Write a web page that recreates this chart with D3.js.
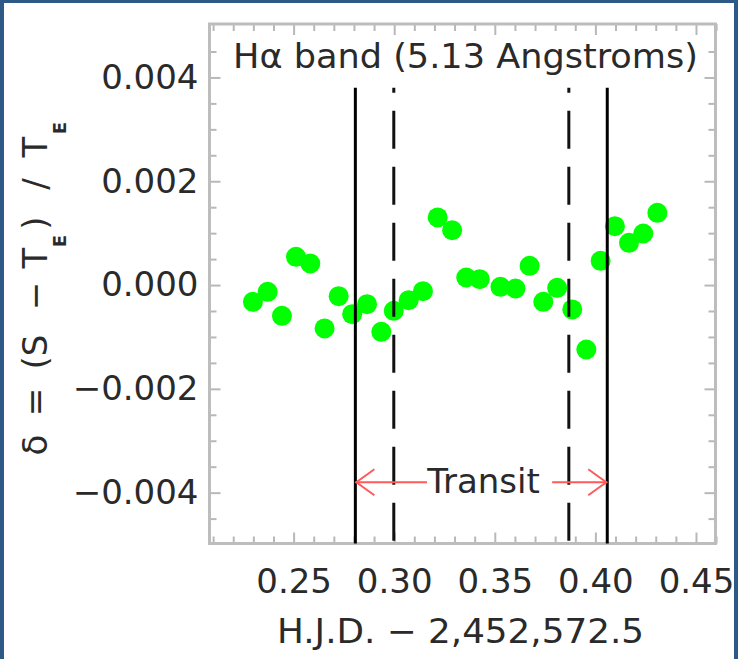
<!DOCTYPE html>
<html>
<head>
<meta charset="utf-8">
<script src="https://cdn.jsdelivr.net/npm/d3@7"></script>
<style>
  html, body { margin: 0; padding: 0; background: #fff; }
  svg { display: block; }
  text { font-family: "DejaVu Sans", sans-serif; fill: #2a2a2a; }
</style>
</head>
<body>
<svg id="chart" width="738" height="659"></svg>
<script>
// ---------------- data ----------------
const hjd = [0.2298, 0.2371, 0.2442, 0.2512, 0.2583, 0.2654, 0.2724, 0.2791, 0.2865, 0.2936,
             0.2998, 0.3072, 0.3143, 0.3216, 0.3288, 0.3358, 0.3425, 0.3528, 0.3603, 0.3673,
             0.3741, 0.3810, 0.3885, 0.3955, 0.4026, 0.4097, 0.4167, 0.4238, 0.4308];
const delta = [-0.000324, -0.000131, -0.000593, 0.000543, 0.000416, -0.000836, -0.000214, -0.000561, -0.000368, -0.000902,
               -0.000497, -0.000291, -0.000118, 0.001303, 0.001058, 0.000146, 0.000114, -0.000035, -0.000066, 0.000370,
               -0.000324, -0.000054, -0.000470, -0.001241, 0.000466, 0.001135, 0.000813, 0.000994, 0.001391];
const contactSolid = [0.2807, 0.4059];    // first / fourth contact
const contactDashed = [0.2998, 0.3868];   // second / third contact
const contactTop = 0.0038;
const transitY = -0.0038;
const transitGap = [0.3163, 0.3785];
const transitLabel = "Transit";
const xMajor = [0.25, 0.30, 0.35, 0.40, 0.45];
const yMajor = [0.004, 0.002, 0.000, -0.002, -0.004];
const xDomain = [0.2082, 0.4597];
const yDomain = [-0.00498, 0.00503];
const titleText = "Hα band (5.13 Angstroms)";
const xTitle = "H.J.D. − 2,452,572.5";
// y title pieces: [text, screen-center-y, subscript?]
const yTitlePieces = [["δ", 445, false], ["=", 402, false], ["(S", 352, false], ["−", 296, false],
                      ["T", 258, false], ["E", 241, true], [")", 223, false], ["/", 184, false],
                      ["T", 147, false], ["E", 128, true]];

// ---------------- layout ----------------
const svg = d3.select("#chart");
const L = 209.5, R = 715.5, T = 24, B = 543.5;
const x = d3.scaleLinear().domain(xDomain).range([L, R]);
const y = d3.scaleLinear().domain(yDomain).range([B, T]);

// blue border
const border = "#2d5987";
svg.append("rect").attr("x", 0).attr("y", 0).attr("width", 738).attr("height", 3).attr("fill", border);
svg.append("rect").attr("x", 0).attr("y", 0).attr("width", 4).attr("height", 659).attr("fill", border);
svg.append("rect").attr("x", 734).attr("y", 0).attr("width", 4).attr("height", 659).attr("fill", border);

const xMinor = d3.range(21, 47).map(d => d / 100).filter(v => !xMajor.some(m => Math.abs(m - v) < 1e-9));
const yMinor = d3.range(-9, 10).map(d => d * 0.0005).filter(v => !yMajor.some(m => Math.abs(m - v) < 1e-9));

const tickColor = "#b8b8b8";
function styleAxis(g) {
  g.select(".domain").remove();
  g.selectAll(".tick line").attr("stroke", tickColor).attr("stroke-width", 2);
  g.selectAll(".tick text").style("font-family", "DejaVu Sans").style("font-size", "34px").attr("fill", "#2a2a2a");
}

// bottom
svg.append("g").attr("transform", `translate(0,${B})`)
  .call(d3.axisBottom(x).tickValues(xMajor).tickSize(-11).tickPadding(25).tickFormat(d3.format(".2f")))
  .call(styleAxis);
svg.append("g").attr("transform", `translate(0,${B})`)
  .call(d3.axisBottom(x).tickValues(xMinor).tickSize(-7).tickFormat(""))
  .call(styleAxis);
// top
svg.append("g").attr("transform", `translate(0,${T})`)
  .call(d3.axisTop(x).tickValues(xMajor).tickSize(-11).tickFormat(""))
  .call(styleAxis);
svg.append("g").attr("transform", `translate(0,${T})`)
  .call(d3.axisTop(x).tickValues(xMinor).tickSize(-7).tickFormat(""))
  .call(styleAxis);
// left
svg.append("g").attr("transform", `translate(${L},0)`)
  .call(d3.axisLeft(y).tickValues(yMajor).tickSize(-11).tickPadding(11).tickFormat(d3.format(".3f")))
  .call(styleAxis);
svg.append("g").attr("transform", `translate(${L},0)`)
  .call(d3.axisLeft(y).tickValues(yMinor).tickSize(-7).tickFormat(""))
  .call(styleAxis);
// right
svg.append("g").attr("transform", `translate(${R},0)`)
  .call(d3.axisRight(y).tickValues(yMajor).tickSize(-11).tickFormat(""))
  .call(styleAxis);
svg.append("g").attr("transform", `translate(${R},0)`)
  .call(d3.axisRight(y).tickValues(yMinor).tickSize(-7).tickFormat(""))
  .call(styleAxis);

// frame
svg.append("rect").attr("x", L).attr("y", T).attr("width", R - L).attr("height", B - T)
  .attr("fill", "none").attr("stroke", "#bdbdbd").attr("stroke-width", 3);

// points
svg.append("g").selectAll("circle").data(hjd.map((h, i) => [h, delta[i]])).join("circle")
  .attr("cx", d => x(d[0])).attr("cy", d => y(d[1])).attr("r", 10).attr("fill", "#00ff00");

// contact lines
svg.append("g").selectAll("line").data(contactSolid).join("line")
  .attr("x1", d => x(d)).attr("x2", d => x(d)).attr("y1", y(contactTop)).attr("y2", y(yDomain[0]))
  .attr("stroke", "#000").attr("stroke-width", 3);
svg.append("g").selectAll("line").data(contactDashed).join("line")
  .attr("x1", d => x(d)).attr("x2", d => x(d)).attr("y1", y(contactTop)).attr("y2", y(yDomain[0]))
  .attr("stroke", "#111").attr("stroke-width", 3)
  .attr("stroke-dasharray", "38,18").attr("stroke-dashoffset", 33);

// transit arrow
const red = "#ff5a5a";
const ay = y(transitY);
const ag = svg.append("g").attr("stroke", red).attr("stroke-width", 2).attr("fill", "none");
ag.append("line").attr("x1", x(contactSolid[0])).attr("x2", x(transitGap[0])).attr("y1", ay).attr("y2", ay);
ag.append("line").attr("x1", x(transitGap[1])).attr("x2", x(contactSolid[1])).attr("y1", ay).attr("y2", ay);
const lx = x(contactSolid[0]), rx = x(contactSolid[1]);
ag.append("path").attr("d", `M${lx + 19},${ay - 13}L${lx + 1},${ay}L${lx + 19},${ay + 13}`);
ag.append("path").attr("d", `M${rx - 19},${ay - 13}L${rx - 1},${ay}L${rx - 19},${ay + 13}`);
svg.append("text").attr("x", (x(transitGap[0]) + x(transitGap[1])) / 2 - 6).attr("y", ay + 11)
  .attr("text-anchor", "middle").style("font-size", "34px").text(transitLabel);

// title
svg.append("text").attr("x", 233).attr("y", 68).style("font-size", "34px")
  .attr("textLength", 465).attr("lengthAdjust", "spacingAndGlyphs").text(titleText);

// x title
svg.append("text").attr("x", 277).attr("y", 643)
  .style("font-size", "34px").attr("textLength", 367).attr("lengthAdjust", "spacingAndGlyphs").text(xTitle);

// y title
const yt = svg.append("g").attr("transform", "rotate(-90)");
yt.selectAll("text").data(yTitlePieces).join("text")
  .attr("x", d => -d[1]).attr("y", d => d[2] ? 66 : 47)
  .attr("text-anchor", "middle")
  .style("font-size", d => d[2] ? "18px" : "34px")
  .style("font-weight", d => d[2] ? "bold" : "normal")
  .text(d => d[0]);
</script>
</body>
</html>
